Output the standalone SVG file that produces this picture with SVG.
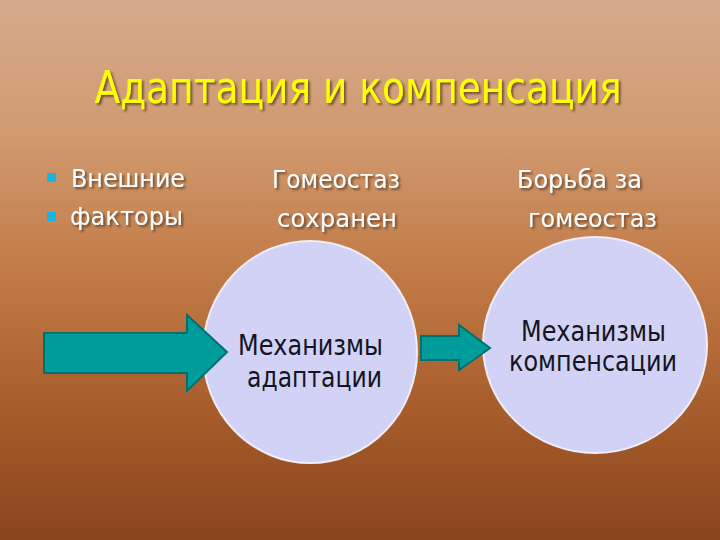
<svg xmlns="http://www.w3.org/2000/svg" width="720" height="540" viewBox="0 0 720 540">
<defs>
<linearGradient id="bg" x1="0" y1="0" x2="0" y2="1">
<stop offset="0" stop-color="#d5aa8c"/>
<stop offset="0.25" stop-color="#d09a70"/>
<stop offset="0.5" stop-color="#c27b47"/>
<stop offset="0.75" stop-color="#a85e2c"/>
<stop offset="1" stop-color="#8a441c"/>
</linearGradient>
<filter id="sh" x="-10%" y="-20%" width="120%" height="150%">
<feDropShadow dx="2" dy="2" stdDeviation="0.8" flood-color="#5a3a28" flood-opacity="0.8"/>
</filter>
</defs>
<style>
.t{font-family:"DejaVu Sans",Verdana,sans-serif;}
.title{font-size:44px;fill:#ffff00;}
.w{font-size:25px;fill:#ffffff;}
.c{font-size:29px;fill:#141422;}
.node{fill:#d2d2f6;stroke:#f0ecf8;stroke-width:2;}
.arr{fill:#009c9c;stroke:#00706e;stroke-width:2;}
.bul{fill:#19b4e6;}
</style>
<rect width="720" height="540" fill="url(#bg)"/>
<text class="t title" x="358" y="103" text-anchor="middle" textLength="527" lengthAdjust="spacingAndGlyphs" filter="url(#sh)">Адаптация и компенсация</text>
<g id="bullets">
<rect class="bul" x="47" y="173" width="9" height="9"/>
<rect class="bul" x="47" y="212" width="9" height="9"/>
<text class="t w" x="71" y="187" textLength="114" lengthAdjust="spacingAndGlyphs" filter="url(#sh)">Внешние</text>
<text class="t w" x="70" y="225" textLength="113" lengthAdjust="spacingAndGlyphs" filter="url(#sh)">факторы</text>
</g>
<g id="label-homeostasis">
<text class="t w" x="272" y="188" textLength="128" lengthAdjust="spacingAndGlyphs" filter="url(#sh)">Гомеостаз</text>
<text class="t w" x="277" y="227" textLength="120" lengthAdjust="spacingAndGlyphs" filter="url(#sh)">сохранен</text>
</g>
<g id="label-struggle">
<text class="t w" x="517" y="188" textLength="125" lengthAdjust="spacingAndGlyphs" filter="url(#sh)">Борьба за</text>
<text class="t w" x="528" y="227" textLength="129" lengthAdjust="spacingAndGlyphs" filter="url(#sh)">гомеостаз</text>
</g>
<g id="node-adaptation">
<ellipse class="node" cx="310" cy="352" rx="107" ry="111"/>
<text class="t c" x="238" y="355" textLength="145" lengthAdjust="spacingAndGlyphs">Механизмы</text>
<text class="t c" x="247" y="387" textLength="135" lengthAdjust="spacingAndGlyphs">адаптации</text>
</g>
<g id="node-compensation">
<ellipse class="node" cx="595" cy="345" rx="112" ry="108"/>
<text class="t c" x="521" y="341" textLength="145" lengthAdjust="spacingAndGlyphs">Механизмы</text>
<text class="t c" x="509" y="371" textLength="168" lengthAdjust="spacingAndGlyphs">компенсации</text>
</g>
<g id="connectors">
<polygon class="arr" points="44,333 187,333 187,315 227,352 187,391 187,373 44,373"/>
<polygon class="arr" points="421,336 459,336 459,325 490,348 459,370 459,360 421,360"/>
</g>
</svg>
